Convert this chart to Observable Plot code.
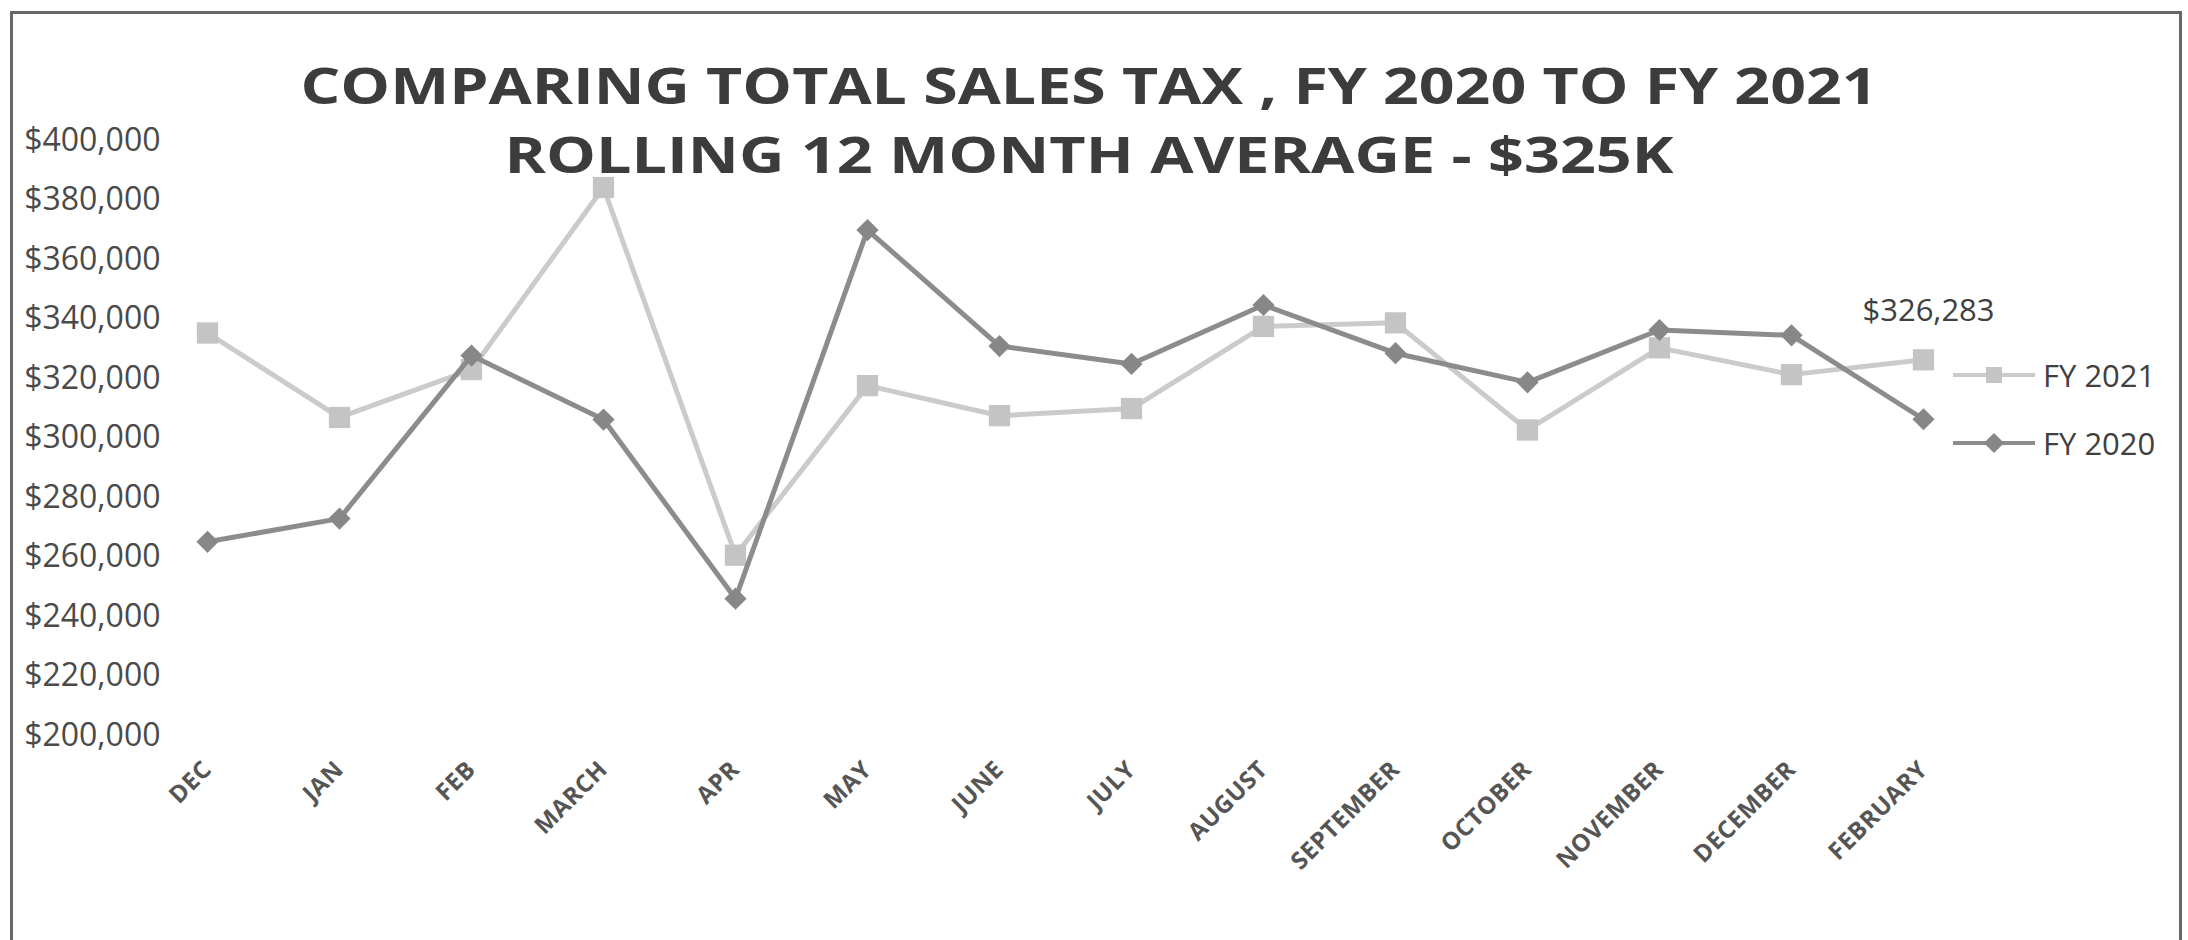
<!DOCTYPE html>
<html>
<head>
<meta charset="utf-8">
<script src="https://cdn.jsdelivr.net/npm/d3@7"></script>
<script src="https://cdn.jsdelivr.net/npm/@observablehq/plot@0.6"></script>
<style>
  html, body { margin: 0; padding: 0; background: #ffffff; }
  #wrap { position: relative; width: 2188px; height: 940px; overflow: hidden; background: #fff; }
  #frame { position: absolute; left: 10px; top: 11px; width: 2172px; height: 1000px; border: 3px solid #686868; box-sizing: border-box; }
  #chart { position: absolute; left: 0; top: 0; }
  #titles { position: absolute; left: 0; top: 0; pointer-events: none; }
  #legend { position: absolute; left: 1953px; top: 356px; font-family: "Open Sans", sans-serif; font-size: 31px; color: #404040; }
  #legend .row { display: flex; align-items: center; height: 38px; margin-bottom: 30px; }
  #legend svg { margin-right: 8px; }
  g[aria-label="x-axis tick label"] text { font-weight: 700; letter-spacing: 0.5px; }
</style>
</head>
<body>
<div id="wrap">
  <div id="frame"></div>
  <div id="chart"></div>
  <svg id="titles" width="2188" height="940"></svg>
  <div id="legend"></div>
</div>
<script>
// ---- data ----
const months = ["DEC", "JAN", "FEB", "MARCH", "APR", "MAY", "JUNE", "JULY", "AUGUST", "SEPTEMBER", "OCTOBER", "NOVEMBER", "DECEMBER", "FEBRUARY"];
const fy2021 = [335300, 306900, 323000, 384200, 260600, 317600, 307500, 309900, 337500, 338700, 302700, 330300, 321300, 326283];
const fy2020 = [265100, 272900, 327700, 306200, 246000, 369900, 330900, 324900, 344700, 328500, 318700, 336300, 334500, 306300];
const yTicks = [200000, 220000, 240000, 260000, 280000, 300000, 320000, 340000, 360000, 380000, 400000];
const seriesNames = ["FY 2021", "FY 2020"];
const titleLines = ["COMPARING TOTAL SALES TAX , FY 2020 TO FY 2021", "ROLLING 12 MONTH AVERAGE - $325K"];

const c2021 = { line: "#cbcbcb", mark: "#c4c4c4" };
const c2020 = { line: "#8c8c8c", mark: "#878787" };

const d21 = months.map((m, i) => ({ month: m, value: fy2021[i], series: seriesNames[0] }));
const d20 = months.map((m, i) => ({ month: m, value: fy2020[i], series: seriesNames[1] }));
const fmt = d3.format("$,");

const chart = Plot.plot({
  width: 2188,
  height: 940,
  marginTop: 140,
  marginBottom: 205,
  marginLeft: 167,
  marginRight: 225,
  style: { fontFamily: "Open Sans, sans-serif", background: "transparent", color: "#4a4a4a" },
  x: { type: "point", domain: months, padding: 0.3 },
  y: { domain: [200000, 400000] },
  marks: [
    Plot.axisY({ ticks: yTicks, tickFormat: fmt, tickSize: 0, tickPadding: 7, fontSize: 32, fill: "#4a4a4a", label: null }),
    Plot.axisX({ tickRotate: -45, tickSize: 0, tickPadding: 30, fontSize: 24, fontWeight: "bold", fill: "#555555", label: null }),
    Plot.lineY(d21, { x: "month", y: "value", stroke: c2021.line, strokeWidth: 5 }),
    Plot.dot(d21, { x: "month", y: "value", symbol: "square", r: 12, fill: c2021.mark, stroke: "none" }),
    Plot.lineY(d20, { x: "month", y: "value", stroke: c2020.line, strokeWidth: 5 }),
    Plot.dot(d20, { x: "month", y: "value", symbol: "diamond2", r: 10, fill: c2020.mark, stroke: "none" }),
    Plot.text(d21.slice(-1), { x: "month", y: "value", text: d => fmt(d.value), dy: -49, dx: 5, fontSize: 31, fill: "#404040" })
  ]
});
document.getElementById("chart").appendChild(chart);

// ---- title ----
const tsvg = d3.select("#titles");
[{ text: titleLines[0], y: 104, len: 1577 }, { text: titleLines[1], y: 173, len: 1169 }].forEach(t => {
  tsvg.append("text")
    .attr("x", 1089).attr("y", t.y)
    .attr("text-anchor", "middle")
    .attr("font-family", "Open Sans, sans-serif")
    .attr("font-weight", 700)
    .attr("font-size", 50)
    .attr("fill", "#3c3c3c")
    .attr("textLength", t.len)
    .attr("lengthAdjust", "spacingAndGlyphs")
    .text(t.text);
});

// ---- legend ----
const legend = d3.select("#legend");
[{ name: seriesNames[0], c: c2021, sym: "square" }, { name: seriesNames[1], c: c2020, sym: "diamond" }].forEach(s => {
  const row = legend.append("div").attr("class", "row");
  const sw = row.append("svg").attr("width", 82).attr("height", 30);
  sw.append("line").attr("x1", 0).attr("x2", 82).attr("y1", 15).attr("y2", 15).attr("stroke", s.c.line).attr("stroke-width", 4);
  if (s.sym === "square") {
    sw.append("rect").attr("x", 33).attr("y", 7).attr("width", 16).attr("height", 16).attr("fill", s.c.mark);
  } else {
    sw.append("path").attr("d", d3.symbol(d3.symbolDiamond2, 260)()).attr("transform", "translate(41,15)").attr("fill", s.c.mark);
  }
  row.append("span").text(s.name);
});
</script>
</body>
</html>
